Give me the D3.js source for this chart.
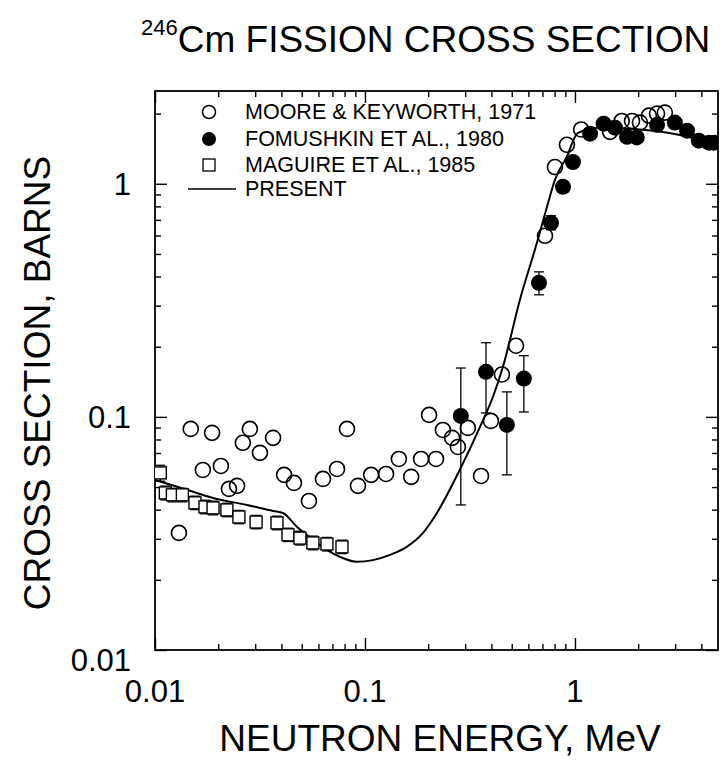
<!DOCTYPE html>
<html>
<head>
<meta charset="utf-8">
<script src="https://cdn.jsdelivr.net/npm/d3@7"></script>
<style>
  html, body { margin: 0; padding: 0; background: #fff; }
  svg { display: block; }
  text { font-family: "Liberation Sans", Arial, Helvetica, sans-serif; fill: #000; }
</style>
</head>
<body>
<svg id="chart" width="728" height="763"></svg>
<script>
// ---------- data ----------
// Moore & Keyworth, 1971 (open circles)
const mooreE = [0.0130,0.0148,0.0169,0.0187,0.0206,0.0225,0.0246,0.0262,0.0283,0.0316,0.0365,0.0412,0.0459,0.0541,0.0631,0.0736,0.0821,0.0926,0.107,0.126,0.145,0.166,0.185,0.202,0.218,0.235,0.260,0.277,0.309,0.357,0.398,0.449,0.524,0.720,0.803,0.916,1.07,1.47,1.67,1.87,2.04,2.25,2.46,2.68];
const mooreS = [0.0318,0.0888,0.0592,0.0854,0.0616,0.0491,0.0506,0.0774,0.0888,0.0701,0.0813,0.0564,0.0521,0.0436,0.0542,0.0598,0.0888,0.0506,0.0564,0.0569,0.0660,0.0553,0.0660,0.102,0.0660,0.0879,0.0813,0.0743,0.0897,0.0558,0.0961,0.152,0.202,0.598,1.18,1.47,1.71,1.67,1.86,1.86,1.83,1.96,2.00,2.02];

// Fomushkin et al., 1980 (filled circles, some with error bars)
const fomE  = [0.286,0.377,0.474,0.571,0.674,0.769,0.877,0.978,1.18,1.37,1.55,1.77,1.97,2.46,2.99,3.42,3.89,4.35,4.59];
const fomS  = [0.101,0.156,0.0924,0.146,0.376,0.680,0.970,1.24,1.64,1.81,1.74,1.59,1.58,1.79,1.83,1.69,1.53,1.50,1.50];
const fomLo = [0.0419,0.104,0.0564,0.105,0.334,0.635,null,null,null,null,null,null,null,null,null,null,null,null,null];
const fomHi = [0.162,0.208,0.128,0.183,0.419,0.729,null,null,null,null,null,null,null,null,null,null,null,null,null];

// Maguire et al., 1985 (open squares with error bars)
const magE  = [0.0106,0.0112,0.0121,0.0135,0.0155,0.0173,0.0189,0.0220,0.0251,0.0303,0.0381,0.0430,0.0490,0.0565,0.0659,0.0777];
const magS  = [0.0575,0.0472,0.0463,0.0463,0.0428,0.0411,0.0407,0.0399,0.0372,0.0354,0.0351,0.0312,0.0302,0.0288,0.0285,0.0277];
const magLo = [0.0530,0.0440,0.0432,0.0432,0.0400,0.0384,0.0380,0.0373,0.0348,0.0331,0.0328,0.0292,0.0282,0.0269,0.0266,0.0259];
const magHi = [0.0620,0.0505,0.0494,0.0494,0.0457,0.0439,0.0435,0.0426,0.0397,0.0378,0.0375,0.0333,0.0323,0.0308,0.0304,0.0296];

// Present evaluation (solid curve)
const curveE = [0.01,0.0142,0.0189,0.0274,0.0365,0.0407,0.0475,0.0565,0.0659,0.0760,0.0916,0.109,0.1315,0.158,0.189,0.220,0.283,0.353,0.407,0.454,0.547,0.659,0.736,0.803,0.916,1.03,1.31,2.04,3.16,4.8];
const curveS = [0.0537,0.0487,0.0449,0.0419,0.0395,0.0387,0.0337,0.0297,0.0269,0.0251,0.0239,0.0243,0.0256,0.0277,0.0318,0.0387,0.0593,0.0906,0.122,0.164,0.318,0.558,0.797,1.04,1.31,1.65,1.74,1.71,1.62,1.47];

// Axis ticks
const xMajor = [0.01, 0.1, 1];
const xMajorLabels = ["0.01", "0.1", "1"];
const xMinor = [0.02,0.03,0.04,0.05,0.06,0.07,0.08,0.09,0.2,0.3,0.4,0.5,0.6,0.7,0.8,0.9,2,3,4];
const yMajor = [0.01, 0.1, 1];
const yMajorLabels = ["0.01", "0.1", "1"];
const yMinor = [0.02,0.03,0.04,0.05,0.06,0.07,0.08,0.09,0.2,0.3,0.4,0.5,0.6,0.7,0.8,0.9,2];

const legendLabels = ["MOORE & KEYWORTH, 1971", "FOMUSHKIN ET AL., 1980", "MAGUIRE ET AL., 1985", "PRESENT"];

// ---------- layout ----------
const L = 155, R = 718, T = 91, B = 650;
const svg = d3.select("#chart");
const x = d3.scaleLog().domain([0.01, 4.8]).range([L, R]);
const y = d3.scaleLog().domain([0.01, 2.5]).range([B, T]);

// ticks (inward on all sides) via d3 axes
function tickAxis(axisFn, scale, vals, size, tx, ty) {
  const g = svg.append("g").attr("transform", `translate(${tx},${ty})`)
    .call(axisFn(scale).tickValues(vals).tickSize(-size).tickFormat(""));
  g.select(".domain").remove();
  g.selectAll(".tick line").attr("stroke", "#000").attr("stroke-width", 1.4);
  return g;
}
tickAxis(d3.axisBottom, x, xMajor, 12, 0, B);
tickAxis(d3.axisBottom, x, xMinor, 6, 0, B);
tickAxis(d3.axisTop, x, xMajor, 12, 0, T);
tickAxis(d3.axisTop, x, xMinor, 6, 0, T);
tickAxis(d3.axisLeft, y, yMajor, 12, L, 0);
tickAxis(d3.axisLeft, y, yMinor, 6, L, 0);
tickAxis(d3.axisRight, y, yMajor, 12, R, 0);
tickAxis(d3.axisRight, y, yMinor, 6, R, 0);

// frame
svg.append("rect").attr("x", L).attr("y", T).attr("width", R - L).attr("height", B - T)
  .attr("fill", "none").attr("stroke", "#000").attr("stroke-width", 1.8);

// tick labels
svg.append("g").selectAll("text").data(xMajor).join("text")
  .attr("x", d => x(d)).attr("y", 702)
  .attr("text-anchor", "middle").attr("font-size", 31)
  .text((d, i) => xMajorLabels[i]);
svg.append("g").selectAll("text").data(yMajor).join("text")
  .attr("x", 131).attr("y", d => d === 0.01 ? 671 : y(d) + 11)
  .attr("text-anchor", "end").attr("font-size", 31)
  .text((d, i) => yMajorLabels[i]);

// axis titles
svg.append("text").attr("x", 440).attr("y", 751).attr("text-anchor", "middle")
  .attr("font-size", 37).text("NEUTRON ENERGY, MeV");
svg.append("text").attr("transform", "translate(50,383) rotate(-90)")
  .attr("text-anchor", "middle").attr("font-size", 37).text("CROSS SECTION, BARNS");

// title
const title = svg.append("text").attr("x", 141).attr("y", 52).attr("font-size", 37);
title.append("tspan").attr("font-size", 22).attr("dy", -17).text("246");
title.append("tspan").attr("dy", 17).text("Cm FISSION CROSS SECTION");

// clip
svg.append("clipPath").attr("id", "clip").append("rect")
  .attr("x", L).attr("y", T).attr("width", R - L).attr("height", B - T);
const plot = svg.append("g").attr("clip-path", "url(#clip)");

// curve
const curvePts = curveE.map((e, i) => [x(e), y(curveS[i])]);
plot.append("path").datum(curvePts)
  .attr("d", d3.line().curve(d3.curveMonotoneX))
  .attr("fill", "none").attr("stroke", "#000").attr("stroke-width", 2);

// error bar helper
function errBars(E, lo, hi, cap) {
  const idx = E.map((e, i) => i).filter(i => lo[i] != null);
  const g = plot.append("g").attr("stroke", "#000").attr("stroke-width", 1.3);
  g.selectAll("line.v").data(idx).join("line")
    .attr("x1", i => x(E[i])).attr("x2", i => x(E[i]))
    .attr("y1", i => y(lo[i])).attr("y2", i => y(hi[i]));
  g.selectAll("line.t").data(idx).join("line")
    .attr("x1", i => x(E[i]) - cap).attr("x2", i => x(E[i]) + cap)
    .attr("y1", i => y(hi[i])).attr("y2", i => y(hi[i]));
  g.selectAll("line.b").data(idx).join("line")
    .attr("x1", i => x(E[i]) - cap).attr("x2", i => x(E[i]) + cap)
    .attr("y1", i => y(lo[i])).attr("y2", i => y(lo[i]));
}
errBars(magE, magLo, magHi, 5);
errBars(fomE, fomLo, fomHi, 5);

// Maguire squares
plot.append("g").selectAll("rect").data(magE).join("rect")
  .attr("x", (d) => x(d) - 6).attr("y", (d, i) => y(magS[i]) - 6)
  .attr("width", 12).attr("height", 12)
  .attr("fill", "#fff").attr("stroke", "#000").attr("stroke-width", 1.4);

// Moore open circles
plot.append("g").selectAll("circle").data(mooreE).join("circle")
  .attr("cx", d => x(d)).attr("cy", (d, i) => y(mooreS[i])).attr("r", 7.5)
  .attr("fill", "none").attr("stroke", "#000").attr("stroke-width", 1.6);

// Fomushkin filled circles
plot.append("g").selectAll("circle").data(fomE).join("circle")
  .attr("cx", d => x(d)).attr("cy", (d, i) => y(fomS[i])).attr("r", 8)
  .attr("fill", "#000");

// legend
const lg = svg.append("g");
const rowsY = [112, 139, 165, 189];
lg.append("circle").attr("cx", 209).attr("cy", rowsY[0]).attr("r", 6.5)
  .attr("fill", "none").attr("stroke", "#000").attr("stroke-width", 1.5);
lg.append("circle").attr("cx", 209).attr("cy", rowsY[1]).attr("r", 7)
  .attr("fill", "#000");
lg.append("rect").attr("x", 203).attr("y", rowsY[2] - 6).attr("width", 12).attr("height", 12)
  .attr("fill", "none").attr("stroke", "#000").attr("stroke-width", 1.3);
lg.append("line").attr("x1", 188).attr("x2", 236).attr("y1", rowsY[3]).attr("y2", rowsY[3])
  .attr("stroke", "#000").attr("stroke-width", 1.6);
lg.selectAll("text").data(legendLabels).join("text")
  .attr("x", 245).attr("y", (d, i) => rowsY[i] + 7)
  .attr("font-size", 21.5).text(d => d);
</script>
</body>
</html>
